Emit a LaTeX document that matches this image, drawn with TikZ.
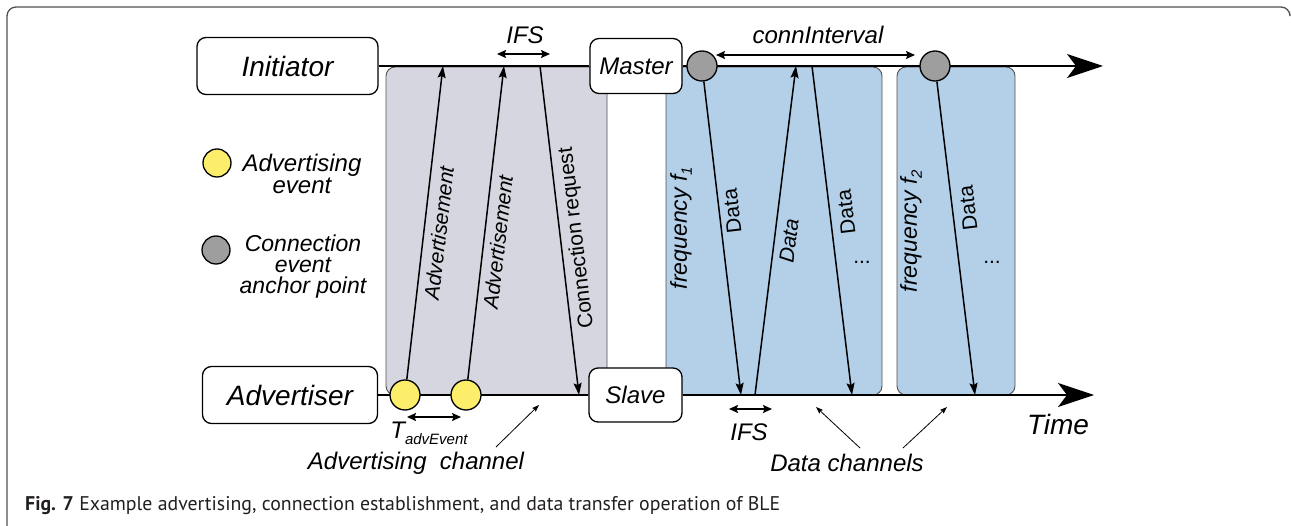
\documentclass[tikz,border=0pt]{standalone}
\usepackage{fontspec}
\setmainfont{Liberation Sans}
\newfontfamily\capfont{PT Sans}
\usetikzlibrary{arrows.meta}
\newcommand{\fsz}[1]{\fontsize{#1}{#1}\selectfont}
\newcommand{\fszl}[2]{\fontsize{#1}{#2}\selectfont}
\definecolor{framecol}{HTML}{505050}
\definecolor{advgray}{HTML}{D5D6DF}
\definecolor{datablue}{HTML}{B3D0E8}
\definecolor{evyellow}{HTML}{FCEE6A}
\definecolor{evgray}{HTML}{9E9E9E}
\definecolor{edgecol}{HTML}{505050}
\definecolor{captext}{HTML}{231F20}
\begin{document}
\begin{tikzpicture}[x=1pt,y=-1pt,
  boxnode/.style={draw,line width=1.3pt,rounded corners=9pt,fill=white,inner sep=0pt},
  region/.style={draw=edgecol,line width=0.9pt,rounded corners=9pt,inner sep=0pt},
  evt/.style={circle,draw,line width=1.3pt,minimum size=30pt,inner sep=0pt},
  msg/.style={line width=1.5pt,-{Stealth[length=12pt,width=8pt,inset=2pt]}},
  spanarrow/.style={line width=1.5pt,{Stealth[length=9pt,width=8pt,inset=1.5pt]}-{Stealth[length=9pt,width=8pt,inset=1.5pt]}},
  tl/.style={line width=2.2pt},
  bigtip/.style={-{Stealth[length=36pt,width=24pt,inset=9pt]}},
  pointer/.style={line width=0.8pt,-{Stealth[length=7pt,width=5pt,inset=1pt]}},
  lbl/.style={font=\itshape\fsz{24},inner sep=0pt},
  rlbl/.style={font=\fsz{21},inner sep=0pt},
  ilbl/.style={font=\itshape\fsz{21},inner sep=0pt}]
\useasboundingbox (0,0) rectangle (1291,526);
% frame
\draw[framecol,line width=1.3pt,rounded corners=9pt] (7,540) -- (7,7) -- (1290,7) -- (1290,14);

% shaded regions
\node[region,fill=advgray,minimum width=221pt,minimum height=328pt] (advreg) at (496.5,231) {};
\node[region,fill=datablue,minimum width=216pt,minimum height=328pt] (dreg1) at (774,231) {};
\node[region,fill=datablue,minimum width=118pt,minimum height=328pt] (dreg2) at (956,231) {};

% role boxes
\node[boxnode,minimum width=181pt,minimum height=57pt,font=\itshape\fsz{28}] (ini) at (287.5,66) {Initiator};
\node[boxnode,minimum width=175pt,minimum height=57pt,font=\itshape\fsz{28}] (adv) at (290,395) {Advertiser};
\node[boxnode,minimum width=92pt,minimum height=55pt,font=\itshape\fsz{24}] (mas) at (636,66) {Master};
\node[boxnode,minimum width=93pt,minimum height=54pt,font=\itshape\fsz{24}] (sla) at (635.5,395) {Slave};

\coordinate (topend) at (1103,66);
\coordinate (botend) at (1094,395);

% timelines
\draw[tl] (ini.east) -- (mas.west);
\draw[tl,bigtip] (mas.east) -- (topend);
\draw[tl] (adv.east) -- (sla.west);
\draw[tl,bigtip] (sla.east) -- (botend);

% event circles
\node[evt,fill=evyellow] (y1) at (405,395) {};
\node[evt,fill=evyellow] (y2) at (466,395) {};
\node[evt,fill=evgray] (g1) at (702,66) {};
\node[evt,fill=evgray] (g2) at (935,66) {};

% message end points
\coordinate (a1t) at (443,66);
\coordinate (a2t) at (504,66);
\coordinate (crt) at (540,66);
\coordinate (crb) at (579,395);
\coordinate (d1b) at (741,395);
\coordinate (d2b) at (755,395);
\coordinate (d2t) at (796,66);
\coordinate (d3t) at (812,66);
\coordinate (d3b) at (852,395);
\coordinate (d4b) at (975,395);

\draw[msg] (y1) -- (a1t);
\draw[msg] (y2) -- (a2t);
\draw[msg] (crt) -- (crb);
\draw[msg] (g1) -- (d1b);
\draw[msg] (d2b) -- (d2t);
\draw[msg] (d3t) -- (d3b);
\draw[msg] (g2) -- (d4b);

% message labels
\node[ilbl,rotate=83.4] (la1) at (439,233) {Advertisement};
\node[ilbl,rotate=83.4] (la2) at (498,242) {Advertisement};
\node[rlbl,rotate=96.8] (lcr) at (577,238) {Connection request};
\node[rlbl,rotate=96.7] (ld1) at (732,211) {Data};
\node[ilbl,rotate=82.9] (ld2) at (789,241) {Data};
\node[rlbl,rotate=96.9] (ld3) at (846,212) {Data};
\node[rlbl,rotate=96.9] (ld4) at (968,208) {Data};
\node[lbl,font=\itshape\fsz{23},rotate=90] (f1) at (681,228) {frequency f\raisebox{-5pt}{\fsz{15}1}};
\node[lbl,font=\itshape\fsz{23},rotate=90] (f2) at (911,231) {frequency f\raisebox{-5pt}{\fsz{15}2}};
\node[rlbl] (dots1) at (862,262) {...};
\node[rlbl] (dots2) at (992,262) {...};

% interval markers
\coordinate (ifs1a) at (497,54);
\coordinate (ifs1b) at (550,54);
\draw[spanarrow] (ifs1a) -- (ifs1b);
\node[lbl] (ifs1) at (525,35) {IFS};
\coordinate (ciA) at (716,55);
\coordinate (ciB) at (915,55);
\draw[spanarrow] (ciA) -- (ciB);
\node[lbl] (ci) at (818,35) {connInterval};
\coordinate (ifs2a) at (729,409);
\coordinate (ifs2b) at (772,409);
\draw[spanarrow] (ifs2a) -- (ifs2b);
\node[lbl] (ifs2) at (749,432) {IFS};
\coordinate (tA) at (407,417);
\coordinate (tB) at (461,417);
\draw[spanarrow] (tA) -- (tB);
\node[lbl] (tadv) at (429,433) {T\raisebox{-6pt}{\fsz{15}advEvent}};

% channel annotations
\node[lbl] (advch) at (416,463) {Advertising\ \ channel};
\coordinate (advchs) at (496,447);
\coordinate (advchp) at (539,405);
\draw[pointer] (advchs) -- (advchp);
\node[lbl] (datch) at (847,463) {Data channels};
\coordinate (dcp1) at (816,407);
\coordinate (dcp2) at (947,407);
\coordinate (dcs1) at (860,448);
\coordinate (dcs2) at (903,448);
\draw[pointer] (dcs1) -- (dcp1);
\draw[pointer] (dcs2) -- (dcp2);
\node[lbl,font=\itshape\fsz{28}] (time) at (1058,424) {Time};

% legend
\node[evt,fill=evyellow,minimum size=28pt] (legy) at (217,163) {};
\node[lbl,align=center,font=\itshape\fszl{24}{22}] (legyt) at (302,174) {Advertising\\event};
\node[evt,fill=evgray,minimum size=28pt] (legg) at (216,250) {};
\node[lbl,align=center,font=\itshape\fszl{23}{21}] (leggt) at (303,267) {Connection\\event\\anchor point};

% caption
\node[anchor=base west,inner sep=0pt,text=captext,font=\capfont\fsz{19.8}] (cap) at (25,510) {\textbf{Fig. 7} Example advertising, connection establishment, and data transfer operation of BLE};
\end{tikzpicture}
\end{document}
